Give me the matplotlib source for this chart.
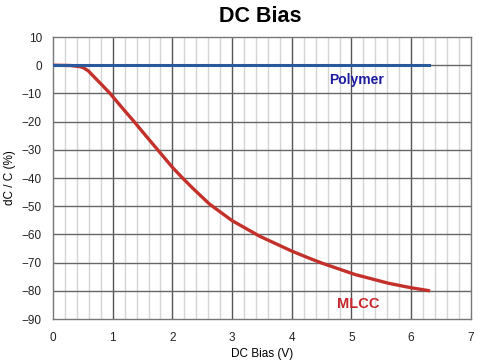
import matplotlib.pyplot as plt
import numpy as np

plt.rcParams['font.family'] = ['Liberation Sans', 'DejaVu Sans']

# MLCC curve
mlcc_v = [0, 0.29, 0.45, 0.51, 0.59, 0.7, 0.82, 0.955, 1.15, 1.37, 1.55,
          1.73, 2.0, 2.18, 2.34, 2.62, 3.0, 3.46, 4.0, 4.29, 4.51, 5.06,
          5.62, 6.0, 6.29]
mlcc_dc = [0, -0.1, -0.5, -0.9, -2, -4.4, -7.0, -10, -14.9, -20.3, -24.9,
           -29.4, -36.2, -40.2, -43.6, -49.2, -55.1, -60.6, -65.9, -68.4, -70.2,
           -74.2, -77.3, -78.9, -79.9]

# Polymer stays flat
poly_v = [0, 6.3]
poly_dc = [0, 0]

x_ticks = np.arange(0, 8, 1)
y_ticks = np.arange(-90, 20, 10)

fig = plt.figure(figsize=(4.78, 3.63), dpi=100)
ax = fig.add_axes([0.111, 0.121, 0.874, 0.777])

# grid: light minor verticals, darker majors
for xv in np.arange(0.2, 7, 0.2):
    if abs(xv - round(xv)) > 1e-6:
        ax.axvline(xv, color='#d4d4d4', lw=1.0, zorder=1)
for xv in x_ticks[1:-1]:
    ax.axvline(xv, color='#555555', lw=1.0, zorder=2)
for yv in y_ticks[1:-1]:
    ax.axhline(yv, color='#666666', lw=1.0, zorder=2)

ax.plot(poly_v, poly_dc, color='#2a5a9c', lw=2.2, zorder=4)
ax.plot(mlcc_v, mlcc_dc, color='#c4312b', lw=2.4, zorder=3,
        solid_joinstyle='round')

ax.text(5.08, -5.3, 'Polymer', color='#1c1ca0', fontsize=10, fontweight='bold',
        ha='center', va='center')
ax.text(5.12, -84.7, 'MLCC', color='#c8262a', fontsize=10.5, fontweight='bold',
        ha='center', va='center')

ax.set_xlim(0, 7)
ax.set_ylim(-90, 10)
ax.set_xticks(x_ticks)
ax.set_yticks(y_ticks)
ax.tick_params(length=0, labelsize=8.5, colors='#222222')
ax.tick_params(axis='x', pad=9)
ax.tick_params(axis='y', pad=8)
for s in ax.spines.values():
    s.set_color('#777777')
    s.set_linewidth(1.0)

ax.set_xlabel('DC Bias (V)', fontsize=8.5, labelpad=3)
ax.set_ylabel('dC / C (%)', fontsize=8.5, labelpad=4)
fig.text(0.545, 0.955, 'DC Bias', fontsize=15.5, fontweight='bold',
         ha='center', va='center')

fig.savefig('out.png', dpi=100)
